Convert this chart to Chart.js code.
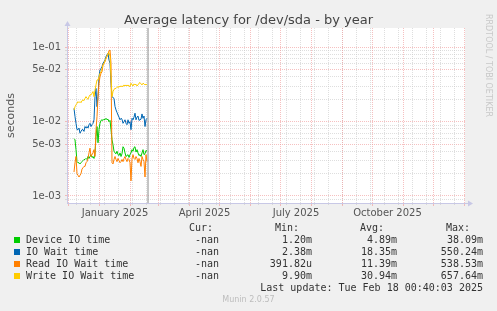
<!DOCTYPE html>
<html>
<head>
<meta charset="utf-8">
<script src="https://cdn.jsdelivr.net/npm/chart.js@4/dist/chart.umd.min.js"></script>
<style>
  body { margin: 0; background: #F0F0F0; }
  #wrap { position: relative; width: 497px; height: 311px; overflow: hidden; }
  #chart { position: absolute; left: 0; top: 0; }
  .t { position: absolute; white-space: pre; font-family: "DejaVu Sans Mono", monospace; font-size: 10px; line-height: 12px; color: #333; }
  .r { text-align: right; }
  .sw { position: absolute; width: 6px; height: 6px; }
  #title { position: absolute; left: 0; width: 497px; top: 12px; text-align: center; font-family: "DejaVu Sans", sans-serif; font-size: 13px; color: #444; }
  #rrd { position: absolute; left: 484px; top: 14px; writing-mode: vertical-rl; font-family: "DejaVu Sans", sans-serif; font-size: 8px; color: #C8C8C8; }
  #ver { position: absolute; left: 0; width: 497px; top: 295px; text-align: center; font-family: "DejaVu Sans", sans-serif; font-size: 8px; color: #BDBDBD; }
</style>
</head>
<body>
<div id="wrap">
  <canvas id="chart" width="497" height="311"></canvas>
  <div id="title">Average latency for /dev/sda - by year</div>
  <div id="rrd">RRDTOOL / TOBI OETIKER</div>
  <div id="ver">Munin 2.0.57</div>
</div>
<script>
// days are counted from 1 January 2025
const firstDay = -25;
const nowDay = 49;
const xMin = -32;
const xMax = 366;

const deviceIO = [
  0.0059, 0.0057, 0.0042, 0.0029, 0.0028, 0.0028, 0.0027, 0.0028, 0.0029, 0.0030,
  0.0031, 0.0031, 0.0032, 0.0031, 0.0034, 0.0032, 0.0034, 0.0036, 0.0033, 0.0034,
  0.0032, 0.0038, 0.0063, 0.0086, 0.0052,
  0.0078, 0.0095, 0.0104, 0.0106, 0.0104, 0.0108, 0.0106, 0.0111, 0.0106, 0.0108,
  0.0100, 0.0104, 0.0078, 0.0057, 0.0049, 0.0040, 0.0038, 0.0037, 0.0040, 0.0036,
  0.0035, 0.0038, 0.0034, 0.0037, 0.0046, 0.0044, 0.0038, 0.0034, 0.0035, 0.0036,
  0.0033, 0.0036, 0.0038, 0.0042, 0.0040, 0.0045, 0.0046, 0.0039, 0.0042, 0.0038,
  0.0035, 0.0036, 0.0034, 0.0038, 0.0042, 0.0036, 0.0037, 0.0041, 0.0040
];
const ioWait = [
  0.0151, 0.0117, 0.0095, 0.0078, 0.0078, 0.0082, 0.0070, 0.0074, 0.0078, 0.0078,
  0.0074, 0.0086, 0.0082, 0.0086, 0.0082, 0.0091, 0.0095, 0.0086, 0.0091, 0.0095,
  0.0106, 0.0217, 0.0280, 0.0159, 0.0217,
  0.0403, 0.0496, 0.0520, 0.0550, 0.0610, 0.0640, 0.0675, 0.0750, 0.0790, 0.0830,
  0.0675, 0.0610, 0.0329, 0.0217, 0.0211, 0.0206, 0.0160, 0.0144, 0.0133, 0.0123,
  0.0115, 0.0106, 0.0111, 0.0108, 0.0095, 0.0100, 0.0106, 0.0095, 0.0091, 0.0106,
  0.0095, 0.0100, 0.0078, 0.0111, 0.0106, 0.0115, 0.0130, 0.0106, 0.0115, 0.0119,
  0.0104, 0.0106, 0.0108, 0.0127, 0.0111, 0.0119, 0.0086, 0.0106, 0.0111
];
const readWait = [
  0.0021, 0.0028, 0.0034, 0.0020, 0.0019, 0.0018, 0.0019, 0.0020, 0.0023, 0.0024,
  0.0025, 0.0025, 0.0028, 0.0029, 0.0032, 0.0038, 0.0044, 0.0034, 0.0036, 0.0038,
  0.0042, 0.0034, 0.0078, 0.0117, 0.0217,
  0.0329, 0.0403, 0.0448, 0.0470, 0.0580, 0.0610, 0.0640, 0.0710, 0.0750, 0.0810,
  0.0900, 0.0920, 0.0610, 0.0028, 0.0027, 0.0031, 0.0034, 0.0031, 0.0029, 0.0032,
  0.0030, 0.0028, 0.0029, 0.0031, 0.0029, 0.0032, 0.0034, 0.0031, 0.0029, 0.0032,
  0.0031, 0.0028, 0.0016, 0.0032, 0.0036, 0.0032, 0.0031, 0.0034, 0.0032, 0.0028,
  0.0032, 0.0029, 0.0025, 0.0034, 0.0031, 0.0029, 0.0018, 0.0036, 0.0029
];
const writeWait = [
  0.0144, 0.0159, 0.0168, 0.0177, 0.0186, 0.0180, 0.0186, 0.0180, 0.0192, 0.0196,
  0.0192, 0.0206, 0.0217, 0.0206, 0.0200, 0.0217, 0.0229, 0.0229, 0.0241, 0.0254,
  0.0217, 0.0267, 0.0312, 0.0364, 0.0364,
  0.0403, 0.0448, 0.0470, 0.0520, 0.0580, 0.0610, 0.0660, 0.0710, 0.0760, 0.0830,
  0.0850, 0.0750, 0.0403, 0.0217, 0.0254, 0.0272, 0.0280, 0.0280, 0.0290, 0.0296,
  0.0290, 0.0302, 0.0296, 0.0302, 0.0296, 0.0312, 0.0302, 0.0312, 0.0302, 0.0312,
  0.0302, 0.0296, 0.0329, 0.0312, 0.0302, 0.0322, 0.0312, 0.0319, 0.0302, 0.0312,
  0.0329, 0.0336, 0.0322, 0.0312, 0.0329, 0.0322, 0.0312, 0.0319, 0.0312
];

const seriesNames = ["Device IO time", "IO Wait time", "Read IO Wait time", "Write IO Wait time"];
const seriesColors = ["#00CC00", "#0066B3", "#FF8000", "#FFCC00"];
const curValues = ["-nan", "-nan", "-nan", "-nan"];
const minValues = ["1.20m", "2.38m", "391.82u", "9.90m"];
const avgValues = ["4.89m", "18.35m", "11.39m", "30.94m"];
const maxValues = ["38.09m", "550.24m", "538.53m", "657.64m"];
const lastUpdate = "Last update: Tue Feb 18 00:40:03 2025";

const yTicks = [0.0009, 0.001, 0.002, 0.003, 0.004, 0.005, 0.006, 0.007, 0.008, 0.009,
  0.01, 0.02, 0.03, 0.04, 0.05, 0.06, 0.07, 0.08, 0.09, 0.1];
const yLabels = { "0.001": "1e-03", "0.005": "5e-03", "0.01": "1e-02", "0.05": "5e-02", "0.1": "1e-01" };
const weekTicks = [-23, -9, 5, 19, 33, 47, 61, 75, 89, 103, 117, 131, 145, 159, 173, 187,
  201, 215, 229, 243, 257, 271, 285, 299, 313, 327, 341, 355];
const monthTicks = [-31, 0, 31, 59, 90, 120, 151, 181, 212, 243, 273, 304, 334, 365];
const monthLabelDays = [16, 105.5, 197, 288.5];
const monthLabels = ["January 2025", "April 2025", "July 2025", "October 2025"];

const gridRed = "rgba(240,150,150,0.6)";
const gridGray = "rgba(200,200,200,0.6)";
const axisColor = "#C8C8E6";

function toPoints(values) {
  return values.map((v, i) => ({ x: firstDay + i, y: v }));
}

const plotBg = {
  id: "plotBg",
  beforeDraw(chart) {
    const { ctx, chartArea: a } = chart;
    ctx.save();
    ctx.fillStyle = "#FFFFFF";
    ctx.fillRect(a.left, a.top, a.right - a.left, a.bottom - a.top);
    ctx.restore();
  }
};

const arrows = {
  id: "arrows",
  afterDraw(chart) {
    const { ctx, chartArea: a } = chart;
    ctx.save();
    ctx.strokeStyle = axisColor;
    ctx.fillStyle = axisColor;
    ctx.lineWidth = 1;
    ctx.beginPath();
    ctx.moveTo(a.right, a.bottom + 0.5);
    ctx.lineTo(a.right + 4, a.bottom + 0.5);
    ctx.moveTo(a.left + 0.5, a.top);
    ctx.lineTo(a.left + 0.5, a.top - 3);
    ctx.stroke();
    ctx.beginPath();
    ctx.moveTo(a.right + 8, a.bottom + 0.5);
    ctx.lineTo(a.right + 3, a.bottom - 2.5);
    ctx.lineTo(a.right + 3, a.bottom + 3.5);
    ctx.fill();
    ctx.beginPath();
    ctx.moveTo(a.left + 0.5, a.top - 7);
    ctx.lineTo(a.left - 2.5, a.top - 2);
    ctx.lineTo(a.left + 3.5, a.top - 2);
    ctx.fill();
    ctx.restore();
  }
};

const tickFont = { family: "DejaVu Sans", size: 10 };

new Chart(document.getElementById("chart"), {
  type: "line",
  data: {
    datasets: [
      { label: seriesNames[0], data: toPoints(deviceIO), borderColor: seriesColors[0], order: 4 },
      { label: seriesNames[1], data: toPoints(ioWait), borderColor: seriesColors[1], order: 3 },
      { label: seriesNames[2], data: toPoints(readWait), borderColor: seriesColors[2], order: 2 },
      { label: seriesNames[3], data: toPoints(writeWait), borderColor: seriesColors[3], order: 1 },
      { label: "now", data: [{ x: nowDay, y: 0.0001 }, { x: nowDay, y: 1 }], borderColor: "#8A8A8A", order: 0 }
    ]
  },
  options: {
    responsive: false,
    animation: false,
    parsing: false,
    layout: { padding: { left: 0, top: 28, right: 32, bottom: 88 } },
    elements: {
      point: { radius: 0 },
      line: { borderWidth: 1, tension: 0 }
    },
    plugins: {
      legend: { display: false },
      title: { display: false },
      tooltip: { enabled: false }
    },
    scales: {
      y: {
        type: "logarithmic",
        position: "left",
        min: 0.000805,
        max: 0.182,
        afterFit: s => { s.width = 67; },
        afterBuildTicks: s => { s.ticks = yTicks.map(v => ({ value: v })); },
        ticks: {
          autoSkip: false,
          padding: 4,
          font: tickFont,
          color: "#555",
          callback: v => yLabels[String(+v.toPrecision(3))] || ""
        },
        grid: {
          tickLength: 2,
          color: c => yLabels[String(+c.tick.value.toPrecision(3))] ? gridRed : gridGray
        },
        border: { color: axisColor, dash: [1, 1] },
        title: {
          display: true,
          text: "seconds",
          color: "#555",
          font: { family: "DejaVu Sans", size: 11 },
          padding: { top: 5, bottom: 0 }
        }
      },
      x: {
        type: "linear",
        position: "bottom",
        min: xMin,
        max: xMax,
        afterFit: s => { s.height = 0; },
        afterBuildTicks: s => { s.ticks = weekTicks.map(v => ({ value: v })); },
        ticks: { display: false },
        grid: { color: gridGray, tickLength: 2 },
        border: { color: axisColor, dash: [1, 1] }
      },
      xm: {
        type: "linear",
        position: "bottom",
        min: xMin,
        max: xMax,
        afterFit: s => { s.height = 0; },
        afterBuildTicks: s => { s.ticks = monthTicks.map(v => ({ value: v })); },
        ticks: { display: false },
        grid: { color: gridRed, tickLength: 3 },
        border: { display: false, dash: [1, 1] }
      },
      xl: {
        type: "linear",
        position: "bottom",
        min: xMin,
        max: xMax,
        afterFit: s => { s.height = 20; },
        afterBuildTicks: s => { s.ticks = monthLabelDays.map(v => ({ value: v })); },
        ticks: {
          autoSkip: false,
          maxRotation: 0,
          padding: 4,
          font: tickFont,
          color: "#555",
          callback: (v, i) => monthLabels[i]
        },
        grid: { display: false, drawTicks: false },
        border: { display: false }
      }
    }
  },
  plugins: [plotBg, arrows]
});

// legend table below the plot
const wrap = document.getElementById("wrap");
function addText(text, x, y, right) {
  const d = document.createElement("div");
  d.className = "t" + (right ? " r" : "");
  d.textContent = text;
  d.style.top = (y - 6) + "px";
  if (right) { d.style.right = (497 - x) + "px"; } else { d.style.left = x + "px"; }
  wrap.appendChild(d);
}
const headerY = 228;
const rowY = [240, 252, 264, 276];
addText("Cur:", 213, headerY, true);
addText("Min:", 299, headerY, true);
addText("Avg:", 384, headerY, true);
addText("Max:", 470, headerY, true);
seriesNames.forEach((name, i) => {
  const sw = document.createElement("div");
  sw.className = "sw";
  sw.style.background = seriesColors[i];
  sw.style.left = "14px";
  sw.style.top = (rowY[i] - 3) + "px";
  wrap.appendChild(sw);
  addText(name, 26, rowY[i], false);
  addText(curValues[i], 219, rowY[i], true);
  addText(minValues[i], 312, rowY[i], true);
  addText(avgValues[i], 397, rowY[i], true);
  addText(maxValues[i], 483, rowY[i], true);
});
addText(lastUpdate, 483, 288, true);
</script>
</body>
</html>
